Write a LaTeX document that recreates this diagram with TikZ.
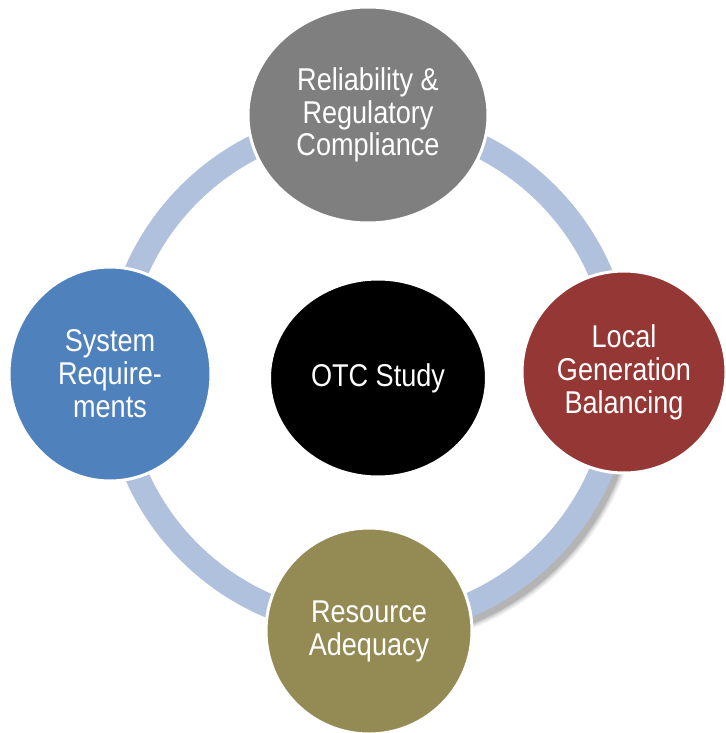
\documentclass[tikz,border=0pt]{standalone}
\usepackage{fontspec}
\setmainfont{Liberation Sans}[FakeStretch=0.86]
\usetikzlibrary{shapes.geometric,calc}
\definecolor{ringc}{RGB}{176,193,221}
\definecolor{cgray}{RGB}{127,127,127}
\definecolor{cblue}{RGB}{79,129,189}
\definecolor{cred}{RGB}{149,55,53}
\definecolor{colive}{RGB}{148,138,84}
\tikzset{
  bubble/.style={ellipse, inner sep=0pt, draw=white, line width=3pt, text=white,
    align=center, font=\fontsize{31.5}{33}\selectfont},
}
\begin{document}
\begin{tikzpicture}[x=1pt,y=-1pt]
\useasboundingbox (0,0) rectangle (725,733);
\coordinate (rc) at (368,373);
% shadow of lower-right arc
\foreach \w/\o in {34/0.05,31/0.07,28/0.09,25/0.12}{
  \draw[black, line width=\w pt, opacity=\o] ($(rc)+(4,5)$) ++(12:253) arc (12:78:253);
}
% ring
\draw[ringc, line width=24pt] (rc) circle (253);
% circles
\node[bubble, fill=cgray, minimum width=240pt, minimum height=216pt] (top) at (368,115)
  {\raisebox{-4pt}{\shortstack{Reliability \&\\Regulatory\\Compliance}}};
\node[bubble, fill=cblue, minimum width=202pt, minimum height=214pt] (left) at (110,374)
  {System\\Require-\\ments};
\node[bubble, fill=cred, minimum width=204pt, minimum height=202pt] (right) at (624,372)
  {Local\\Generation\\Balancing};
\node[bubble, fill=colive, minimum width=206pt, minimum height=206pt] (bottom) at (369,631)
  {Resource\\Adequacy};
\node[bubble, fill=black, minimum width=217pt, minimum height=198pt] (center) at (378,378)
  {OTC Study};
\end{tikzpicture}
\end{document}
